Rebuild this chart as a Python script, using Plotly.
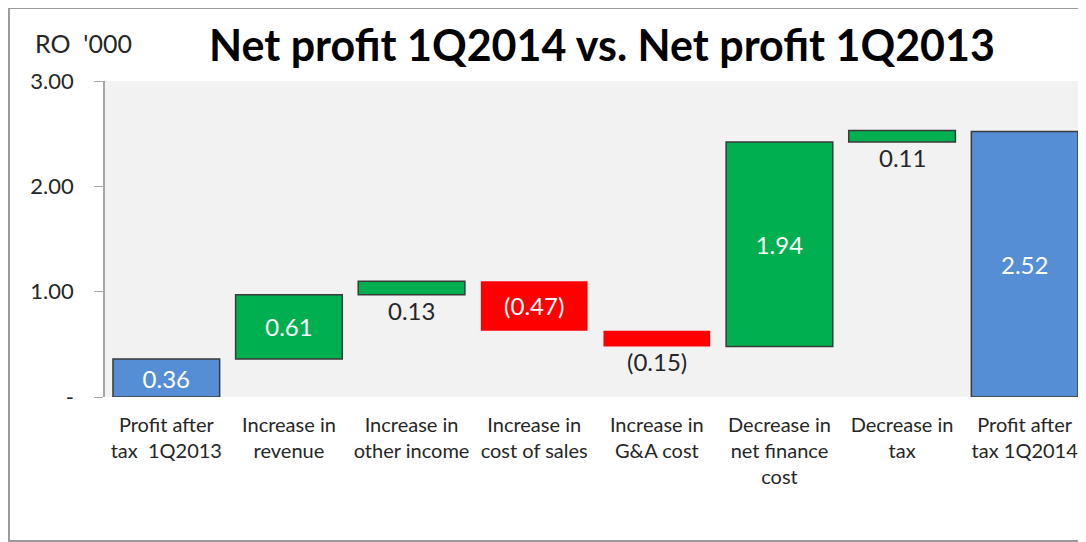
import plotly.graph_objects as go

categories = [
    "Profit after<br>tax  1Q2013",
    "Increase in<br>revenue",
    "Increase in<br>other income",
    "Increase in<br>cost of sales",
    "Increase in<br>G&A cost",
    "Decrease in<br>net finance<br>cost",
    "Decrease in<br>tax",
    "Profit after<br>tax 1Q2014",
]
changes = [0.36, 0.61, 0.13, -0.47, -0.15, 1.94, 0.11, 2.52]
kinds = ["total", "delta", "delta", "delta", "delta", "delta", "delta", "total"]
y_ticks = [0, 1, 2, 3]
y_tick_labels = ["-", "1.00", "2.00", "3.00"]

BLUE = "#558ED5"
GREEN = "#00B050"
RED = "#FF0000"
FONT = "Lato"

# build waterfall bases by running total
bases, running = [], 0.0
for v, k in zip(changes, kinds):
    if k == "total":
        bases.append(0.0)
        running = v
    else:
        bases.append(running)
        running += v


def fmt(v):
    return f"({abs(v):.2f})" if v < 0 else f"{v:.2f}"


colors, line_colors, line_widths = [], [], []
for v, k in zip(changes, kinds):
    if k == "total":
        colors.append(BLUE)
    elif v >= 0:
        colors.append(GREEN)
    else:
        colors.append(RED)
    if colors[-1] == RED:
        line_colors.append(RED)
        line_widths.append(0)
    else:
        line_colors.append("#3a3a3a")
        line_widths.append(1.5)

small = [abs(v) < 0.2 for v in changes]
inside_text = ["" if s else fmt(v) for v, s in zip(changes, small)]

fig = go.Figure()
fig.add_trace(go.Bar(
    x=categories, y=changes, base=bases,
    marker=dict(color=colors, line=dict(color=line_colors, width=line_widths)),
    text=inside_text, textposition="inside", insidetextanchor="middle",
    textfont=dict(family=FONT, size=24, color="white"),
    hoverinfo="skip",
))

# labels under the thin bars
for c, b, v, s in zip(categories, bases, changes, small):
    if not s:
        continue
    fig.add_annotation(x=c, y=min(b, b + v), text=fmt(v), showarrow=False,
                       yanchor="top", yshift=1,
                       font=dict(family=FONT, size=24, color="#262626"))

# chart frame
fig.add_shape(type="rect", xref="paper", yref="paper",
              x0=-0.0979, x1=1.05, y0=-0.456, y1=1.231,
              line=dict(color="#9a9a9a", width=2), fillcolor="rgba(0,0,0,0)", layer="below")

fig.add_annotation(text="RO  '000", xref="paper", yref="paper", x=-0.0734, y=1.12,
                   xanchor="left", yanchor="middle", showarrow=False,
                   font=dict(family=FONT, size=25, color="#262626"))

fig.update_layout(
    width=1078, height=534,
    margin=dict(l=97, r=0, t=73, b=145),
    paper_bgcolor="white", plot_bgcolor="#F2F2F2",
    showlegend=False, bargap=0.13,
    font=dict(family=FONT, color="#262626"),
    title=dict(text="<b>Net profit 1Q2014 vs. Net profit 1Q2013</b>",
               x=0.551, xanchor="center", y=0.929, yanchor="middle",
               font=dict(family=FONT, size=43, color="black")),
    xaxis=dict(showline=False, ticks="", ticklabelstandoff=14,
               tickfont=dict(size=20, color="#262626"), showgrid=False),
    yaxis=dict(range=[0, 3], tickvals=y_ticks, ticktext=y_tick_labels,
               showgrid=False, zeroline=False, showline=True, linecolor="#a6a6a6",
               linewidth=1.5, ticks="outside", ticklen=9, tickcolor="#a6a6a6",
               ticklabelstandoff=16, tickfont=dict(size=22, color="#262626")),
)

fig.write_html("out.html")
